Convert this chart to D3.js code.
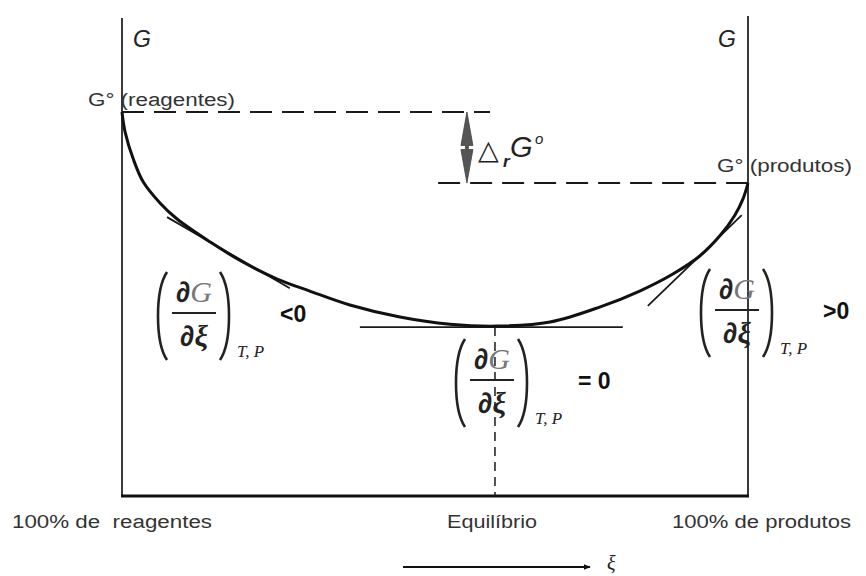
<!DOCTYPE html>
<html>
<head>
<meta charset="utf-8">
<script src="https://cdn.jsdelivr.net/npm/d3@7"></script>
<style>
  html, body { margin: 0; padding: 0; background: #fff; }
  svg { display: block; }
  text { white-space: pre; }
</style>
</head>
<body>
<script>
// Gibbs energy G along the reaction coordinate ξ (0 = pure reactants, 1 = pure products)
const xi = [0, 0.005, 0.018, 0.034, 0.061, 0.088, 0.141, 0.193, 0.248, 0.3, 0.364, 0.444, 0.524, 0.599,
            0.684, 0.764, 0.827, 0.88, 0.923, 0.955, 0.979, 0.992, 1];
const G  = [80, 75.8, 70.2, 65.4, 61, 57.7, 52.9, 48.75, 45.2, 42.7, 39.8, 37.3, 35.8, 35.4,
            36.25, 39.4, 42.7, 46.25, 50, 54.2, 58.5, 61.9, 65.2];

// standard Gibbs energies of pure reactants and pure products, and the equilibrium point
const G0reagentes = 80;
const G0produtos = 65.2;
const xiEq = 0.599;
const Gmin = 35.2;

// tangent segments [ξ, G] at three points of the curve
const tangentLeft  = [[0.072, 58.1], [0.268, 43.3]];
const tangentEq    = [[0.38, Gmin], [0.8, Gmin]];
const tangentRight = [[0.84, 39.6], [0.99, 58.5]];

// dashed reference levels: [ξ start, ξ end, G]
const levelReag = [0, 0.588, G0reagentes];
const levelProd = [0.505, 1, G0produtos];
const xiDelta = 0.551;

// labels along the ξ axis
const bottomLabels = [
  { text: "100% de  reagentes", x: 12, len: 200 },
  { text: "Equilíbrio", x: 447, len: 90 },
  { text: "100% de produtos", x: 672, len: 179 }
];

const W = 866, H = 576;
const svg = d3.select("body").append("svg").attr("width", W).attr("height", H);

const x = d3.scaleLinear().domain([0, 1]).range([122, 748]);
const y = d3.scaleLinear().domain([0, 100]).range([496, 16]);

const ink = "#1a1a1a";

// frame: two G axes and the ξ baseline
svg.append("line").attr("x1", x(0)).attr("x2", x(0)).attr("y1", y(99.6)).attr("y2", y(0))
  .attr("stroke", "#3a3a3a").attr("stroke-width", 2);
svg.append("line").attr("x1", x(1)).attr("x2", x(1)).attr("y1", y(100)).attr("y2", y(0))
  .attr("stroke", "#3a3a3a").attr("stroke-width", 2);
svg.append("line").attr("x1", x(0) - 1).attr("x2", x(1) + 1).attr("y1", y(0)).attr("y2", y(0))
  .attr("stroke", "#111").attr("stroke-width", 3);

// axis titles G
[133, 718].forEach(px => {
  svg.append("text").attr("x", px).attr("y", 47)
    .attr("font-family", "Liberation Sans, Arial, sans-serif").attr("font-style", "italic")
    .attr("font-size", 23).attr("fill", "#222").text("G");
});

// dashed standard-energy levels
[levelReag, levelProd].forEach(([a, b, g]) => {
  svg.append("line").attr("x1", x(a)).attr("x2", x(b)).attr("y1", y(g)).attr("y2", y(g))
    .attr("stroke", ink).attr("stroke-width", 2).attr("stroke-dasharray", "22,10");
});

// equilibrium dashed drop line
svg.append("line").attr("x1", x(xiEq) - 2).attr("x2", x(xiEq) - 2).attr("y1", y(Gmin)).attr("y2", y(0))
  .attr("stroke", ink).attr("stroke-width", 1.5).attr("stroke-dasharray", "9,6");

// tangents
[tangentLeft, tangentEq, tangentRight].forEach(seg => {
  svg.append("line")
    .attr("x1", x(seg[0][0])).attr("y1", y(seg[0][1]))
    .attr("x2", x(seg[1][0])).attr("y2", y(seg[1][1]))
    .attr("stroke", ink).attr("stroke-width", 1.8);
});

// G(ξ) curve
const pts = xi.map((v, i) => [v, G[i]]);
svg.append("path").datum(pts)
  .attr("d", d3.line().x(d => x(d[0])).y(d => y(d[1])).curve(d3.curveCatmullRom.alpha(0.5)))
  .attr("fill", "none").attr("stroke", "#111").attr("stroke-width", 3);

// double-headed arrow for ΔrG°
{
  const ax = x(xiDelta), yt = y(G0reagentes), yb = y(G0produtos);
  const mid = (yt + yb) / 2;
  const p = d3.path();
  p.moveTo(ax, yt); p.lineTo(ax - 6, mid - 2); p.lineTo(ax - 1.5, mid - 2);
  p.lineTo(ax - 1.5, mid + 2); p.lineTo(ax - 6, mid + 2); p.lineTo(ax, yb);
  p.lineTo(ax + 6, mid + 2); p.lineTo(ax + 1.5, mid + 2); p.lineTo(ax + 1.5, mid - 2);
  p.lineTo(ax + 6, mid - 2); p.closePath();
  svg.append("path").attr("d", p.toString()).attr("fill", "#555").attr("stroke", "#444").attr("stroke-width", 0.8);
}

// ΔrG° label
{
  const g = svg.append("text").attr("font-family", "Liberation Sans, Arial, sans-serif").attr("fill", "#222");
  g.append("tspan").attr("x", 478).attr("y", 159).attr("font-family", "DejaVu Sans, sans-serif")
    .attr("font-size", 27).text("△");
  g.append("tspan").attr("x", 503).attr("y", 167).attr("font-size", 17).attr("font-style", "italic")
    .attr("font-weight", "bold").text("r");
  g.append("tspan").attr("x", 510).attr("y", 157).attr("font-size", 29).attr("font-style", "italic").text("G");
  g.append("tspan").attr("x", 535).attr("y", 144).attr("font-size", 15).attr("font-style", "italic").text("o");
}

// standard-state labels
svg.append("text").attr("x", 88).attr("y", 106)
  .attr("font-family", "Liberation Sans, Arial, sans-serif").attr("font-size", 18).attr("fill", "#333")
  .attr("textLength", 147).attr("lengthAdjust", "spacingAndGlyphs").text("G° (reagentes)");
svg.append("text").attr("x", 717).attr("y", 172)
  .attr("font-family", "Liberation Sans, Arial, sans-serif").attr("font-size", 18).attr("fill", "#333")
  .attr("textLength", 135).attr("lengthAdjust", "spacingAndGlyphs").text("G° (produtos)");

// partial-derivative expressions (∂G/∂ξ)_{T,P} with sign
function derivative(cx, L, relation) {
  const g = svg.append("g");
  const paren = (x0, dir) => {
    const top = L - 41, bot = L + 47;
    const p = d3.path();
    p.moveTo(x0 + dir * 10, top);
    p.bezierCurveTo(x0 - dir * 2, top + 18, x0 - dir * 2, bot - 18, x0 + dir * 10, bot);
    g.append("path").attr("d", p.toString()).attr("fill", "none").attr("stroke", "#222").attr("stroke-width", 2.6);
  };
  paren(cx - 37, 1);
  paren(cx + 36, -1);
  const num = g.append("text").attr("x", cx).attr("y", L - 11).attr("text-anchor", "middle");
  num.append("tspan").attr("font-family", "Liberation Sans, Arial, sans-serif").attr("font-weight", "bold")
    .attr("font-size", 29).attr("fill", "#222").text("∂");
  num.append("tspan").attr("font-family", "Liberation Serif, serif").attr("font-style", "italic")
    .attr("font-size", 30).attr("fill", "#777").text("G");
  g.append("line").attr("x1", cx - 22).attr("x2", cx + 22).attr("y1", L).attr("y2", L)
    .attr("stroke", "#222").attr("stroke-width", 2);
  const den = g.append("text").attr("x", cx).attr("y", L + 33).attr("text-anchor", "middle");
  den.append("tspan").attr("font-family", "Liberation Sans, Arial, sans-serif").attr("font-weight", "bold")
    .attr("font-size", 29).attr("fill", "#222").text("∂");
  den.append("tspan").attr("font-family", "Liberation Serif, serif").attr("font-style", "italic").attr("font-weight", "bold")
    .attr("font-size", 30).attr("fill", "#222").text("ξ");
  g.append("text").attr("x", cx + 43).attr("y", L + 44)
    .attr("font-family", "Liberation Serif, serif").attr("font-style", "italic")
    .attr("font-size", 17).attr("fill", "#222").text("T, P");
  g.append("text").attr("x", cx + 86).attr("y", L + 9)
    .attr("font-family", "Liberation Sans, Arial, sans-serif").attr("font-weight", "bold")
    .attr("font-size", 23).attr("fill", "#111").text(relation);
}
derivative(194, 313, "<0");
derivative(492, 380, "= 0");
derivative(737, 310, ">0");

// ξ-axis labels
bottomLabels.forEach(d => {
  svg.append("text").attr("x", d.x).attr("y", 528)
    .attr("font-family", "Liberation Sans, Arial, sans-serif").attr("font-size", 18).attr("fill", "#333")
    .attr("textLength", d.len).attr("lengthAdjust", "spacingAndGlyphs").text(d.text);
});

// direction of increasing ξ
svg.append("defs").append("marker").attr("id", "head").attr("viewBox", "0 0 10 10")
  .attr("refX", 9).attr("refY", 5).attr("markerWidth", 7).attr("markerHeight", 7)
  .attr("markerUnits", "userSpaceOnUse").attr("orient", "auto")
  .append("path").attr("d", "M0,1 L10,5 L0,9 Z").attr("fill", "#111");
svg.append("line").attr("x1", 403).attr("x2", 590).attr("y1", 567).attr("y2", 567)
  .attr("stroke", "#111").attr("stroke-width", 1.8).attr("marker-end", "url(#head)");
svg.append("text").attr("x", 607).attr("y", 570)
  .attr("font-family", "Liberation Serif, serif").attr("font-style", "italic")
  .attr("font-size", 20).attr("fill", "#222").text("ξ");
</script>
</body>
</html>
